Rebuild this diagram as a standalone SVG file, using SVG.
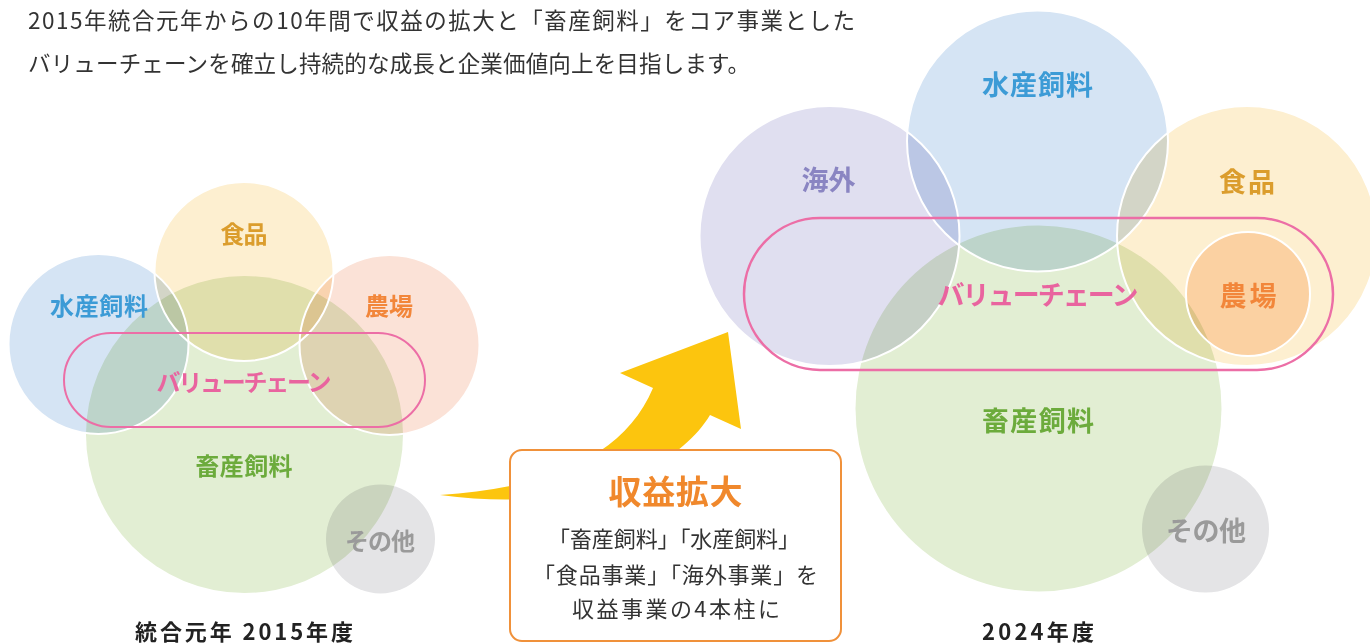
<svg xmlns="http://www.w3.org/2000/svg" width="1370" height="643" viewBox="0 0 1370 643">
<style>
.m{mix-blend-mode:multiply}
.ws{fill:none;stroke:#fff;stroke-width:2}
.vc{fill:none;stroke:#ec6ea6}
text{font-family:"Noto Sans CJK JP","Noto Sans",sans-serif;dominant-baseline:central}
.lb{font-weight:700;text-anchor:middle}
.s{font-size:24px}
.l{font-size:27px}
.blue{fill:#3c9bd6}.gold{fill:#db9d2d}.org{fill:#f2863a}.grn{fill:#6cab3c}.gry{fill:#9a9a9a}.pur{fill:#8a85c2}.pnk{fill:#e9649f}
.body{fill:#333;font-size:22.5px}
.cap{fill:#222;font-size:22px;font-weight:700;text-anchor:middle}
.cb{fill:#333;font-size:22px;text-anchor:middle}
</style>
<rect width="1370" height="643" fill="#fff"/>
<g id="intro">
<text class="body" x="28" y="19" textLength="827" lengthAdjust="spacing">2015年統合元年からの10年間で収益の拡大と「畜産飼料」をコア事業とした</text>
<text class="body" x="28" y="62" textLength="722" lengthAdjust="spacing">バリューチェーンを確立し持続的な成長と企業価値向上を目指します。</text>
</g>
<g id="diagram-2015">
<g id="circles-2015">
<circle class="m" cx="244.5" cy="434.5" r="158.5" fill="#e2eed3"/>
<circle class="m" cx="244" cy="271.5" r="89.5" fill="#fdefd0"/>
<circle class="m" cx="98.5" cy="344" r="90" fill="#d5e4f4"/>
<circle class="m" cx="389.5" cy="345" r="90" fill="#fbe2d7"/>
<circle class="m" cx="380.5" cy="539" r="54.5" fill="#e4e4e6"/>
<circle class="ws" cx="244" cy="271.5" r="89.5"/>
<circle class="ws" cx="98.5" cy="344" r="90"/>
<circle class="ws" cx="389.5" cy="345" r="90"/>
</g>
<rect id="vc-2015" class="vc" x="64" y="333" width="361" height="94" rx="47" stroke-width="2"/>
<g id="n-food-2015"><text class="lb s gold" x="244" y="232" textLength="47" lengthAdjust="spacing">食品</text></g>
<g id="n-aqua-2015"><text class="lb s blue" x="99" y="304" textLength="98" lengthAdjust="spacing">水産飼料</text></g>
<g id="n-farm-2015"><text class="lb s org" x="389" y="304" textLength="48" lengthAdjust="spacing">農場</text></g>
<g id="n-vc-2015"><text class="lb s pnk" x="244" y="380" textLength="175" lengthAdjust="spacing">バリューチェーン</text></g>
<g id="n-live-2015"><text class="lb s grn" x="244" y="464.5" textLength="97" lengthAdjust="spacing">畜産飼料</text></g>
<g id="n-other-2015"><text class="lb s gry" x="380" y="539" textLength="70" lengthAdjust="spacing">その他</text></g>
<text class="cap" x="244" y="629.5" textLength="218" lengthAdjust="spacing">統合元年 2015年度</text>
</g>
<g id="connectors">
<path d="M440 495 C550 488 625 455 653 388 L620 373 L728 332 L741 429 L710 415 C680 465 590 515 440 495 Z" fill="#fcc50e"/>
</g>
<g id="callout">
<rect x="510" y="450" width="331" height="191" rx="12" fill="#fff" stroke="#f0913a" stroke-width="2"/>
<text x="675.5" y="490" fill="#f0882c" font-size="33" font-weight="700" text-anchor="middle" textLength="134" lengthAdjust="spacing">収益拡大</text>
<text class="cb" x="674" y="537" textLength="252" lengthAdjust="spacing">「畜産飼料」「水産飼料」</text>
<text class="cb" x="675.5" y="573" textLength="285" lengthAdjust="spacing">「食品事業」「海外事業」を</text>
<text class="cb" x="676" y="607" textLength="208" lengthAdjust="spacing">収益事業の4本柱に</text>
</g>
<g id="diagram-2024">
<g id="circles-2024">
<circle class="m" cx="1038.5" cy="408.5" r="183" fill="#e2eed3"/>
<circle class="m" cx="1037.5" cy="141" r="130.5" fill="#d5e4f4"/>
<circle class="m" cx="829.5" cy="236" r="130" fill="#e0dff0"/>
<circle class="m" cx="1247" cy="236" r="130" fill="#fdefd0"/>
<circle class="m" cx="1248" cy="294" r="62" fill="#fddfc7"/>
<circle class="m" cx="1205.5" cy="529" r="63.5" fill="#e4e4e6"/>
<circle class="ws" cx="1037.5" cy="141" r="130.5"/>
<circle class="ws" cx="829.5" cy="236" r="130"/>
<circle class="ws" cx="1247" cy="236" r="130"/>
<circle class="ws" cx="1248" cy="294" r="62"/>
</g>
<rect id="vc-2024" class="vc" x="744" y="218" width="589" height="152" rx="76" stroke-width="2.5"/>
<g id="n-aqua-2024"><text class="lb l blue" x="1037.5" y="83" textLength="111" lengthAdjust="spacing">水産飼料</text></g>
<g id="n-overseas-2024"><text class="lb l pur" x="828.5" y="178" textLength="54" lengthAdjust="spacing">海外</text></g>
<g id="n-food-2024"><text class="lb l gold" x="1247" y="180" textLength="56" lengthAdjust="spacing">食品</text></g>
<g id="n-vc-2024"><text class="lb l pnk" x="1038" y="293" textLength="201" lengthAdjust="spacing">バリューチェーン</text></g>
<g id="n-farm-2024"><text class="lb l org" x="1248" y="294" textLength="57" lengthAdjust="spacing">農場</text></g>
<g id="n-live-2024"><text class="lb l grn" x="1038" y="419" textLength="112" lengthAdjust="spacing">畜産飼料</text></g>
<g id="n-other-2024"><text class="lb l gry" x="1206" y="529.5" textLength="80" lengthAdjust="spacing">その他</text></g>
<text class="cap" x="1038" y="629.5" textLength="112" lengthAdjust="spacing">2024年度</text>
</g>
</svg>
